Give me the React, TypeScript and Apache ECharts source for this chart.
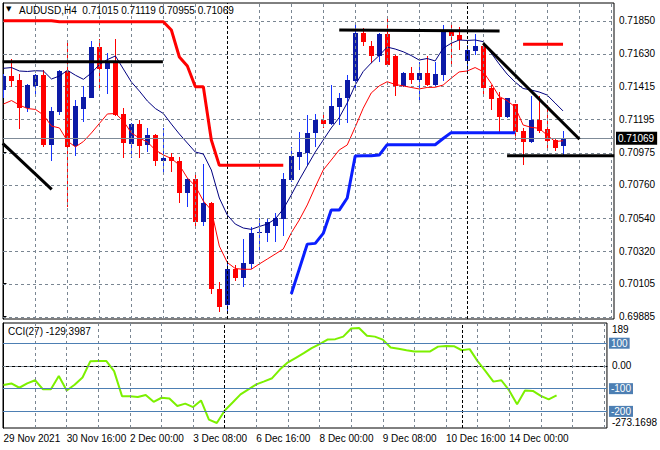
import React, { useEffect, useRef } from "react";
import * as echarts from "echarts";

// ---------- DATA ----------
const chartTitle = "AUDUSD,H4  0.71015 0.71119 0.70955 0.71069";
const cciTitle = "CCI(27) -129.3987";

const opens = [
  0.7139, 0.71483, 0.71456, 0.71268, 0.71416, 0.71487, 0.71027, 0.71246, 0.71516, 0.71018,
  0.71262, 0.71339, 0.71673, 0.71529, 0.71582, 0.7123, 0.71031, 0.71162, 0.71025, 0.71091,
  0.7092, 0.70945, 0.70918, 0.70708, 0.70799, 0.70515, 0.70642, 0.7007, 0.69964, 0.70201,
  0.70144, 0.70235, 0.70438, 0.70442, 0.70487, 0.70535, 0.70792, 0.70947, 0.70973, 0.71102,
  0.71191, 0.71164, 0.71279, 0.71335, 0.71452, 0.7177, 0.71682, 0.71616, 0.7176, 0.71616,
  0.71416, 0.71505, 0.71456, 0.71505, 0.71423, 0.71489, 0.71777, 0.71755, 0.71584, 0.71651,
  0.71682, 0.71401, 0.71335, 0.71213, 0.71297, 0.7112, 0.71047, 0.71191, 0.71131, 0.71058,
  0.71015,
];
const highs = [
  0.71496, 0.71594, 0.71496, 0.7143, 0.71494, 0.71523, 0.71279, 0.71523, 0.71704, 0.71323,
  0.71416, 0.71715, 0.71728, 0.71634, 0.71726, 0.71268, 0.71173, 0.71191, 0.71136, 0.71098,
  0.71136, 0.7097, 0.70947, 0.70804, 0.70825, 0.70898, 0.70648, 0.70117, 0.70246, 0.70228,
  0.70398, 0.70478, 0.70538, 0.70531, 0.70571, 0.70841, 0.71013, 0.71109, 0.71224, 0.71228,
  0.71235, 0.71421, 0.71372, 0.71489, 0.71833, 0.718, 0.71717, 0.7177, 0.71866, 0.7162,
  0.7151, 0.71545, 0.71578, 0.71616, 0.71578, 0.71821, 0.71821, 0.7181, 0.71689, 0.71762,
  0.717, 0.71423, 0.71379, 0.7134, 0.713, 0.71136, 0.7135, 0.7135, 0.7129, 0.71069,
  0.71119,
];
const lows = [
  0.71337, 0.71408, 0.71129, 0.71246, 0.71357, 0.71009, 0.7092, 0.71224, 0.70615, 0.70954,
  0.71179, 0.71335, 0.71396, 0.71361, 0.71217, 0.7094, 0.7094, 0.7094, 0.7098, 0.70885,
  0.70837, 0.70847, 0.70642, 0.70615, 0.70467, 0.70487, 0.70035, 0.69918, 0.69918, 0.70124,
  0.70084, 0.70199, 0.7031, 0.70383, 0.70383, 0.7042, 0.70779, 0.70859, 0.70892, 0.71013,
  0.71136, 0.71157, 0.71157, 0.71169, 0.7139, 0.71682, 0.71567, 0.71578, 0.71545, 0.7135,
  0.71408, 0.7143, 0.71312, 0.71416, 0.71416, 0.71452, 0.71561, 0.71655, 0.71518, 0.71622,
  0.7135, 0.71257, 0.71102, 0.71202, 0.71058, 0.70892, 0.71036, 0.71107, 0.71003, 0.70985,
  0.70955,
];
const closes = [
  0.71483, 0.71452, 0.71272, 0.71423, 0.71487, 0.71025, 0.71248, 0.71516, 0.71013, 0.71284,
  0.71341, 0.71673, 0.71529, 0.71584, 0.71224, 0.7104, 0.71162, 0.7102, 0.71089, 0.7092,
  0.70938, 0.7092, 0.70708, 0.70799, 0.70515, 0.70642, 0.7007, 0.69951, 0.70201, 0.70144,
  0.70239, 0.70442, 0.70449, 0.70513, 0.70538, 0.70799, 0.70954, 0.70976, 0.71102, 0.71191,
  0.71164, 0.71282, 0.71335, 0.71456, 0.7177, 0.71711, 0.71616, 0.7176, 0.71556, 0.71416,
  0.71505, 0.71456, 0.71505, 0.71423, 0.71496, 0.71777, 0.71748, 0.71722, 0.71655, 0.71682,
  0.71401, 0.71328, 0.71213, 0.71335, 0.71113, 0.71047, 0.71191, 0.7112, 0.71053, 0.71007,
  0.71069,
];

const maUpper = [
  0.71534, 0.71539, 0.71516, 0.71513, 0.71518, 0.71516, 0.71463, 0.71483, 0.71521, 0.71488,
  0.71461, 0.71503, 0.71559, 0.71592, 0.71616, 0.71529, 0.71443, 0.71383, 0.71317, 0.71267,
  0.71234, 0.71164, 0.71098, 0.71038, 0.70978, 0.70965, 0.70859, 0.70673, 0.7056, 0.705,
  0.70474, 0.70465, 0.70484, 0.705, 0.70534, 0.706, 0.70693, 0.70793, 0.70886, 0.70978,
  0.71058, 0.71138, 0.71207, 0.71304, 0.71423, 0.71513, 0.71569, 0.71619, 0.71675, 0.71662,
  0.71644, 0.71619, 0.71589, 0.71599, 0.71583, 0.71667, 0.717, 0.71722, 0.71719, 0.71722,
  0.71711, 0.71636, 0.71563, 0.71496, 0.71443, 0.714, 0.7139, 0.71377, 0.71357, 0.71304,
  0.71251,
];
const maLower = [
  0.71297, 0.7132, 0.7129, 0.71267, 0.71261, 0.71224, 0.71151, 0.71138, 0.71051, 0.71012,
  0.71048, 0.71105, 0.71168, 0.71231, 0.71234, 0.71184, 0.71105, 0.71071, 0.71045, 0.70992,
  0.70959, 0.70935, 0.70892, 0.70806, 0.70753, 0.70653, 0.70593, 0.70354, 0.70245, 0.70205,
  0.702, 0.702, 0.70235, 0.70268, 0.70301, 0.70335, 0.70441, 0.70527, 0.70627, 0.70746,
  0.70859, 0.70925, 0.70992, 0.71025, 0.71144, 0.71269, 0.7137, 0.71417, 0.71445, 0.71427,
  0.71417, 0.71407, 0.71397, 0.71407, 0.71408, 0.71423, 0.71468, 0.7151, 0.71516, 0.71539,
  0.71512, 0.71435, 0.71347, 0.7132, 0.71277, 0.71158, 0.71142, 0.71136, 0.71091, 0.71048,
  0.71053,
];
const N = null;
const stopRed = [
  0.7185, 0.7185, 0.7185, 0.7185, 0.7185, 0.7185, 0.7185, 0.71843, 0.71843, 0.71843,
  0.71843, 0.71843, 0.71843, 0.71843, 0.71843, 0.71843, 0.71843, 0.71843, 0.71843, 0.71843,
  0.71843, 0.71788, 0.71609, 0.71549, 0.71412, 0.71412, 0.71058, 0.7089, 0.7089, 0.7089,
  0.7089, 0.7089, 0.7089, 0.7089, 0.7089, 0.7089, N, N, N, N,
  N, N, N, N, N, N, N, N, N, N,
  N, N, N, N, N, N, N, N, N, N,
  N, N, N, N, N, 0.71693, 0.71693, 0.71693, 0.71693, 0.71693,
  0.71693,
];
const stopBlue = [
  N, N, N, N, N, N, N, N, N, N,
  N, N, N, N, N, N, N, N, N, N,
  N, N, N, N, N, N, N, N, N, N,
  N, N, N, N, N, N, 0.70036, 0.70201, 0.70367, 0.70372,
  0.70438, 0.70593, 0.70593, 0.70673, 0.70952, 0.70954, 0.70954, 0.70958, 0.71027, 0.71027,
  0.71027, 0.71027, 0.71027, 0.71027, 0.71027, 0.71068, 0.71107, 0.71107, 0.71107, 0.71107,
  0.71107, 0.71107, 0.71107, 0.71107, 0.71107, N, N, N, N, N,
  N,
];
const cci = [
  -84, -77, -96, -77, -63, -103, -103, -44, -108, -83,
  -51, 21, 22, 22, -23, -133, -133, -137, -128, -158,
  -140, -143, -176, -166, -181, -152, -236, -251, -196, -161,
  -125, -103, -81, -68, -54, -15, 16, 36, 56, 78,
  96, 116, 118, 129, 165, 167, 133, 129, 116, 81,
  76, 69, 64, 64, 64, 85, 88, 87, 69, 74,
  21, -23, -69, -63, -108, -169, -108, -110, -132, -147,
  -129.3987,
];

// drawn trend lines: [barIndex, price] end points
const trendA = [[-0.1, 0.71036], [6.03, 0.70731]];
const trendB = [[-0.1, 0.71578], [19.94, 0.71578]];
const trendC = [[42, 0.71788], [62.06, 0.71782]];
const trendD = [[60, 0.717], [72.06, 0.71063]];
const trendE = [[63, 0.70954], [76.4, 0.70954]];

const priceTicks = [0.7185, 0.7163, 0.71415, 0.71195, 0.70975, 0.7076, 0.7054, 0.7032, 0.70105, 0.69885];
const lastPrice = 0.71069;
const priceMin = 0.6987;
const priceMax = 0.719675;
const cciMax = 189;
const cciMin = -273.1698;
const cciAxisValues = [189, 0, -273.1698];
const cciLevels = [100, -100, -200];
const dateTickIdx = [0, 8, 16, 24, 32, 40, 48, 56, 64];
const dateTickLabels = [
  "29 Nov 2021", "30 Nov 16:00", "2 Dec 00:00", "3 Dec 08:00", "6 Dec 16:00",
  "8 Dec 00:00", "9 Dec 08:00", "10 Dec 16:00", "14 Dec 00:00",
];
const vGridIdx = [4, 8, 12, 16, 20, 24, 28, 32, 36, 40, 44, 48, 52, 56, 60, 64, 68, 72, 76];
const weekSeparators = [28, 58];
const xMin = -0.0625;
const xMax = 76.375;

// ---------- STYLE ----------
const FONT = "Liberation Sans, Arial, sans-serif";
const GRID_GRAY = "#7a8692";
const BULL_BODY = "#0c1aa6";
const BULL_WICK = "#1432ff";
const BEAR = "#ff0000";
const LEVEL_BLUE = "#4d7fb3";
const DASH_ON = 3;
const DASH_PERIOD = 6;

export default function App() {
  const ref = useRef<HTMLDivElement>(null);

  useEffect(() => {
    document.body.style.margin = "0";
    if (!ref.current) return;
    const chart = echarts.init(ref.current, undefined, { renderer: "svg" });

    const candleData = opens.map((o, i) => [i, o, closes[i], lows[i], highs[i]]);
    const toXY = (arr: (number | null)[]) => arr.map((v, i) => [i, v == null ? "-" : v]);

    const dashed = () => ({ color: GRID_GRAY, type: [3, 3] as any, width: 1 });
    const sepStyle = () => ({ color: "#000", type: [3, 2] as any, width: 1 });

    // horizontal price grid lines: one custom item per tick, dashes built as short solid rects
    const priceGridSeries = {
      type: "custom",
      xAxisIndex: 0,
      yAxisIndex: 0,
      clip: false,
      silent: true,
      z: 2,
      data: priceTicks.map((p) => [0, p]),
      encode: { x: 0, y: 1 },
      renderItem: (_params: any, api: any) => {
        const p = api.value(1);
        const a = api.coord([xMin, p]);
        const b = api.coord([xMax, p]);
        const y = Math.round(a[1]);
        const x0 = Math.round(a[0]);
        const x1 = Math.round(b[0]);
        const children: any[] = [];
        for (let x = x0; x < x1; x += DASH_PERIOD) {
          children.push({
            type: "rect",
            shape: { x, y, width: Math.min(DASH_ON, x1 - x), height: 1 },
            style: { fill: GRID_GRAY },
          });
        }
        return { type: "group", children };
      },
    };

    const mainGridLines: any[] = [
      ...vGridIdx.filter((v) => !weekSeparators.includes(v)).map((v) => ({ xAxis: v, lineStyle: dashed() })),
      ...weekSeparators.map((v) => ({ xAxis: v, lineStyle: sepStyle() })),
      {
        yAxis: lastPrice,
        lineStyle: { color: "#7f8b98", type: "solid", width: 1 },
        label: {
          show: true,
          position: "end",
          formatter: lastPrice.toFixed(5),
          backgroundColor: "#000",
          color: "#fff",
          fontFamily: FONT,
          fontSize: 10,
          padding: [2, 3, 1, 2],
          distance: 2,
        },
      },
    ];

    const cciGridLines: any[] = [
      { yAxis: 0, lineStyle: dashed() },
      ...vGridIdx.filter((v) => !weekSeparators.includes(v)).map((v) => ({ xAxis: v, lineStyle: dashed() })),
      ...weekSeparators.map((v) => ({ xAxis: v, lineStyle: sepStyle() })),
      ...cciLevels.map((lv) => ({
        yAxis: lv,
        lineStyle: { color: LEVEL_BLUE, type: "solid", width: 1 },
        label: {
          show: true,
          position: "end",
          formatter: String(lv),
          backgroundColor: LEVEL_BLUE,
          color: "#fff",
          fontFamily: FONT,
          fontSize: 10,
          padding: [1, 2, 0, 2],
          distance: 2,
        },
      })),
    ];

    const trendSeries = [trendA, trendB, trendC, trendD, trendE].map((d) => ({
      type: "line",
      xAxisIndex: 0,
      yAxisIndex: 0,
      data: d,
      showSymbol: false,
      symbol: "none",
      lineStyle: { color: "#000", width: 3 },
      z: 6,
      silent: true,
    }));

    const option: any = {
      animation: false,
      backgroundColor: "#fff",
      textStyle: { fontFamily: FONT },
      grid: [
        { left: 3, right: 46, top: 3, height: 316, show: true, borderColor: "#000", borderWidth: 1, backgroundColor: "#fff" },
        { left: 3, right: 46, top: 323, height: 105, show: true, borderColor: "#000", borderWidth: 1, backgroundColor: "#fff" },
      ],
      xAxis: [
        { gridIndex: 0, type: "value", min: xMin, max: xMax, show: false, splitLine: { show: false } },
        {
          gridIndex: 1,
          type: "value",
          min: xMin,
          max: xMax,
          axisLine: { show: true, lineStyle: { color: "#000" } },
          axisTick: { show: true, customValues: dateTickIdx, length: 4, lineStyle: { color: "#000" } },
          axisLabel: {
            show: true,
            customValues: dateTickIdx,
            formatter: (v: number) => dateTickLabels[dateTickIdx.indexOf(Math.round(v))] ?? "",
            align: "left",
            margin: 5,
            color: "#000",
            fontFamily: FONT,
            fontSize: 10,
          },
          splitLine: { show: false },
        },
      ],
      yAxis: [
        {
          gridIndex: 0,
          type: "value",
          position: "right",
          min: priceMin,
          max: priceMax,
          axisLine: { show: true, lineStyle: { color: "#000" } },
          axisTick: { show: true, customValues: priceTicks, length: 3, lineStyle: { color: "#000" } },
          axisLabel: {
            show: true,
            customValues: priceTicks,
            formatter: (v: number) => v.toFixed(5),
            margin: 5,
            color: "#000",
            fontFamily: FONT,
            fontSize: 10,
          },
          splitLine: { show: false },
        },
        {
          gridIndex: 1,
          type: "value",
          position: "right",
          min: cciMin,
          max: cciMax,
          axisLine: { show: true, lineStyle: { color: "#000" } },
          axisTick: { show: true, customValues: [0, ...cciLevels], length: 3, lineStyle: { color: "#000" } },
          axisLabel: {
            show: true,
            customValues: cciAxisValues,
            formatter: (v: number) => {
              if (v === cciMax) return "{top|" + String(cciMax) + "}";
              if (v === cciMin) return "{bot|" + String(cciMin) + "}";
              return v.toFixed(2);
            },
            rich: {
              top: { padding: [12, 0, 0, 0], fontSize: 10, fontFamily: FONT, color: "#000" },
              bot: { padding: [0, 0, 12, 0], fontSize: 10, fontFamily: FONT, color: "#000" },
            },
            margin: 5,
            color: "#000",
            fontFamily: FONT,
            fontSize: 10,
          },
          splitLine: { show: false },
        },
      ],
      series: [
        priceGridSeries,
        {
          type: "line",
          xAxisIndex: 0,
          yAxisIndex: 0,
          data: [],
          z: 1,
          silent: true,
          markLine: {
            silent: true,
            precision: 5,
            symbol: ["none", "none"],
            label: { show: false },
            data: mainGridLines,
            animation: false,
          },
        },
        {
          type: "line",
          xAxisIndex: 1,
          yAxisIndex: 1,
          data: [],
          z: 1,
          silent: true,
          markLine: {
            silent: true,
            precision: 4,
            symbol: ["none", "none"],
            label: { show: false },
            data: cciGridLines,
            animation: false,
          },
        },
        {
          type: "custom",
          xAxisIndex: 0,
          yAxisIndex: 0,
          clip: true,
          z: 3,
          data: candleData,
          encode: { x: 0, y: [1, 2, 3, 4] },
          renderItem: (_params: any, api: any) => {
            const i = api.value(0);
            const o = api.value(1);
            const c = api.value(2);
            const l = api.value(3);
            const h = api.value(4);
            const pO = api.coord([i, o]);
            const pC = api.coord([i, c]);
            const pL = api.coord([i, l]);
            const pH = api.coord([i, h]);
            const bull = c >= o;
            const xf = Math.floor(pO[0]);
            const top = Math.round(Math.min(pO[1], pC[1]));
            const bot = Math.round(Math.max(pO[1], pC[1]));
            return {
              type: "group",
              children: [
                {
                  type: "line",
                  shape: { x1: xf + 0.5, y1: Math.round(pH[1]), x2: xf + 0.5, y2: Math.round(pL[1]) },
                  style: { stroke: bull ? BULL_WICK : BEAR, lineWidth: 1 },
                },
                {
                  type: "rect",
                  shape: { x: xf - 2, y: top, width: 5, height: Math.max(bot - top, 1) },
                  style: { fill: bull ? BULL_BODY : BEAR },
                },
              ],
            };
          },
        },
        {
          type: "line",
          xAxisIndex: 0,
          yAxisIndex: 0,
          data: toXY(maUpper),
          showSymbol: false,
          symbol: "none",
          lineStyle: { color: "#000080", width: 1 },
          z: 4,
          silent: true,
        },
        {
          type: "line",
          xAxisIndex: 0,
          yAxisIndex: 0,
          data: toXY(maLower),
          showSymbol: false,
          symbol: "none",
          lineStyle: { color: "#ff0000", width: 1 },
          z: 4,
          silent: true,
        },
        {
          type: "line",
          xAxisIndex: 0,
          yAxisIndex: 0,
          data: toXY(stopRed),
          showSymbol: false,
          symbol: "none",
          connectNulls: false,
          lineStyle: { color: "#ff0000", width: 3 },
          z: 5,
          silent: true,
        },
        {
          type: "line",
          xAxisIndex: 0,
          yAxisIndex: 0,
          data: toXY(stopBlue),
          showSymbol: false,
          symbol: "none",
          connectNulls: false,
          lineStyle: { color: "#0a1eff", width: 3 },
          z: 5,
          silent: true,
        },
        ...trendSeries,
        {
          type: "line",
          xAxisIndex: 1,
          yAxisIndex: 1,
          data: toXY(cci),
          showSymbol: false,
          symbol: "none",
          lineStyle: { color: "#7cf000", width: 2 },
          z: 4,
          silent: true,
        },
      ],
      graphic: [
        {
          type: "text",
          left: 6,
          top: 5,
          style: { text: "▼", fontSize: 7, fill: "#000", fontFamily: "DejaVu Sans" },
          z: 100,
        },
        {
          type: "text",
          left: 19,
          top: 5,
          style: { text: chartTitle, fontSize: 10, fill: "#000", fontFamily: FONT },
          z: 100,
        },
        {
          type: "text",
          left: 8,
          top: 326,
          style: { text: cciTitle, fontSize: 10, fill: "#000", fontFamily: FONT },
          z: 100,
        },
      ],
    };

    chart.setOption(option);
    return () => chart.dispose();
  }, []);

  return <div ref={ref} style={{ width: 660, height: 450 }} />;
}
